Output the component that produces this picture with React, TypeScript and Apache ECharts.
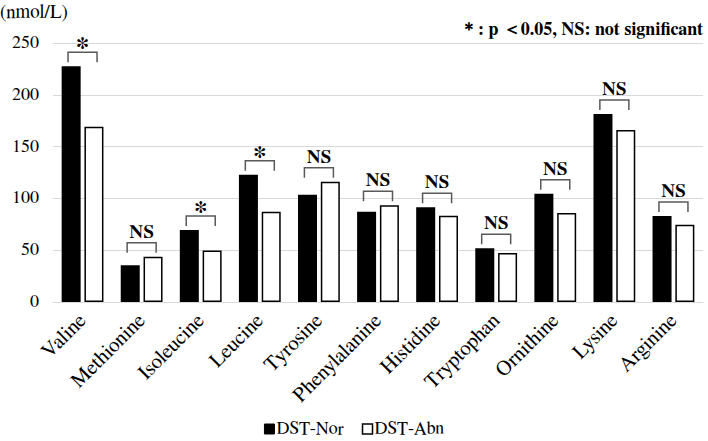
import React, { useEffect, useRef } from "react";
import * as echarts from "echarts";

const categories = ["Valine", "Methionine", "Isoleucine", "Leucine", "Tyrosine", "Phenylalanine", "Histidine", "Tryptophan", "Ornithine", "Lysine", "Arginine"];
const dstNor = [227.5, 35.4, 69.5, 122.9, 103.6, 87.2, 91.4, 51.8, 104.6, 181.5, 83];
const dstAbn = [169.2, 43.7, 49.8, 87.2, 116.1, 93.3, 83.3, 47.3, 85.9, 166, 74.6];
const significance = ["*", "NS", "*", "*", "NS", "NS", "NS", "NS", "NS", "NS", "NS"];
const yTicks = { min: 0, max: 250, interval: 50 };
const seriesNames = ["DST-Nor", "DST-Abn"];

const FONT = "FreeSerif, 'Liberation Serif', serif";

export default function App() {
  const ref = useRef<HTMLDivElement>(null);
  useEffect(() => {
    if (!ref.current) return;
    const chart = echarts.init(ref.current, null, { renderer: "svg" });
    const bracketData = categories.map((_, i) => [i, Math.max(dstNor[i], dstAbn[i]), significance[i]]);
    chart.setOption({
      animation: false,
      textStyle: { fontFamily: FONT },
      grid: { left: 53, right: 5, top: 43, bottom: 139 },
      title: [
        { text: "(nmol/L)", left: -5, top: -2, textStyle: { fontFamily: FONT, fontSize: 19, fontWeight: "normal", color: "#000" } },
        { text: "\uFF0A: p \uFF1C0.05, NS: not significant", right: 0, top: 16, textStyle: { fontFamily: FONT, fontSize: 18, fontWeight: "bold", color: "#000" } },
      ],
      legend: {
        bottom: -2,
        left: "center",
        itemWidth: 10,
        itemHeight: 10,
        itemGap: 18,
        icon: "rect",
        data: [
          { name: seriesNames[0], itemStyle: { color: "#000", borderColor: "#000", borderWidth: 1 } },
          { name: seriesNames[1], itemStyle: { color: "#fff", borderColor: "#000", borderWidth: 1.5 } },
        ],
        textStyle: { fontFamily: FONT, fontSize: 18, color: "#000", padding: [0, 0, 0, -3] },
      },
      xAxis: {
        type: "category",
        data: categories,
        axisLine: { lineStyle: { color: "#d9d9d9", width: 1 } },
        axisTick: { show: false },
        axisLabel: { interval: 0, rotate: 45, fontFamily: FONT, fontSize: 21, color: "#000", margin: 15 },
      },
      yAxis: {
        type: "value",
        min: yTicks.min,
        max: yTicks.max,
        interval: yTicks.interval,
        axisLine: { show: false },
        axisTick: { show: false },
        splitLine: { lineStyle: { color: "#d9d9d9", width: 1 } },
        axisLabel: { fontFamily: FONT, fontSize: 18, color: "#000", margin: 14 },
      },
      series: [
        {
          name: seriesNames[0],
          type: "bar",
          data: dstNor,
          barWidth: 19,
          barGap: "20%",
          itemStyle: { color: "#000" },
        },
        {
          name: seriesNames[1],
          type: "bar",
          data: dstAbn,
          barWidth: 19,
          barGap: "20%",
          itemStyle: { color: "#fff", borderColor: "#000", borderWidth: 1.5 },
        },
        {
          type: "custom",
          name: "sig",
          data: bracketData,
          encode: { x: 0, y: 1 },
          z: 10,
          clip: false,
          renderItem: (params: any, api: any) => {
            const pt = api.coord([api.value(0), api.value(1)]);
            const cx = pt[0];
            const top = pt[1] - 14;
            const half = 14.5;
            const label = significance[params.dataIndex];
            const isStar = label === "*";
            return {
              type: "group",
              children: [
                {
                  type: "polyline",
                  shape: { points: [[cx - half, top + 10], [cx - half, top], [cx + half, top], [cx + half, top + 10]] },
                  style: { stroke: "#595959", lineWidth: 1.5, fill: null },
                },
                {
                  type: "text",
                  x: cx,
                  y: isStar ? top + 9 : top - 1,
                  style: {
                    text: label,
                    x: 0,
                    y: 0,
                    align: "center",
                    verticalAlign: "bottom",
                    fontFamily: FONT,
                    fontWeight: "bold",
                    fontSize: isStar ? 27 : 19,
                    fill: "#000",
                  },
                },
              ],
            };
          },
        },
      ],
    });
    return () => chart.dispose();
  }, []);
  return <div ref={ref} style={{ position: "absolute", left: 0, top: 0, width: 708, height: 441 }} />;
}
